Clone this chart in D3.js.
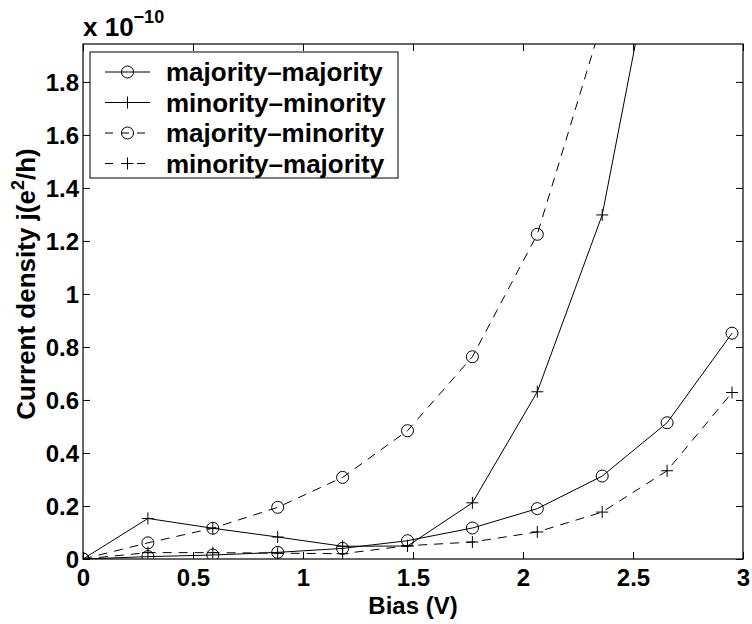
<!DOCTYPE html>
<html>
<head>
<meta charset="utf-8">
<script src="https://cdn.jsdelivr.net/npm/d3@7"></script>
<style>
  body { margin: 0; background: #fff; }
  svg text { font-family: "Liberation Sans", Arial, Helvetica, sans-serif; font-weight: bold; fill: #000; }
</style>
</head>
<body>
<svg id="chart" width="752" height="624"></svg>
<script>
// values in units of 1e-10 e^2/h
var bias = [0, 0.295, 0.59, 0.885, 1.18, 1.475, 1.77, 2.065, 2.36, 2.655, 2.95];
var majMaj = [0, 0.009, 0.015, 0.025, 0.04, 0.069, 0.117, 0.19, 0.313, 0.514, 0.852];
var minMin = [0, 0.153, 0.116, 0.083, 0.048, 0.049, 0.212, 0.631, 1.298, 2.56, 4.8];
var majMin = [0, 0.061, 0.116, 0.195, 0.308, 0.484, 0.763, 1.225, 2.03, 3.3, 5.2];
var minMaj = [0, 0.024, 0.024, 0.022, 0.02, 0.05, 0.064, 0.102, 0.177, 0.333, 0.628];
var seriesNames = ['majority-majority', 'minority-minority', 'majority-minority', 'minority-majority'];
var xTicks = [0, 0.5, 1, 1.5, 2, 2.5, 3];
var yTicks = [0, 0.2, 0.4, 0.6, 0.8, 1, 1.2, 1.4, 1.6, 1.8];

var margin = {top: 44, right: 9, bottom: 65, left: 83};
var W = 752, H = 624;
var width = W - margin.left - margin.right;
var height = H - margin.top - margin.bottom;

var series = [
    {name: seriesNames[0], values: majMaj, dash: null, marker: 'circle'},
    {name: seriesNames[1], values: minMin, dash: null, marker: 'plus'},
    {name: seriesNames[2], values: majMin, dash: '9,7', marker: 'circle'},
    {name: seriesNames[3], values: minMaj, dash: '9,7', marker: 'plus'}
];

var svg = d3.select('#chart');
var g = svg.append('g').attr('transform', 'translate(' + margin.left + ',' + margin.top + ')');

var x = d3.scaleLinear().domain([0, 3]).range([0, width]);
var y = d3.scaleLinear().domain([0, 1.943]).range([height, 0]);

g.append('clipPath').attr('id', 'plotClip')
    .append('rect').attr('width', width).attr('height', height);

// axes, ticks pointing inward like matlab
var fmt = function (d) { return String(d); };
var xb = g.append('g').attr('transform', 'translate(0,' + height + ')')
    .call(d3.axisBottom(x).tickValues(xTicks).tickFormat(fmt).tickSizeInner(-7).tickSizeOuter(0).tickPadding(10));
var xt = g.append('g')
    .call(d3.axisTop(x).tickValues(xTicks).tickFormat('').tickSizeInner(-7).tickSizeOuter(0));
var yl = g.append('g')
    .call(d3.axisLeft(y).tickValues(yTicks).tickFormat(fmt).tickSizeInner(-7).tickSizeOuter(0).tickPadding(4));
var yr = g.append('g').attr('transform', 'translate(' + width + ',0)')
    .call(d3.axisRight(y).tickValues(yTicks).tickFormat('').tickSizeInner(-7).tickSizeOuter(0));
[xb, xt, yl, yr].forEach(function (a) {
    a.select('.domain').remove();
    a.selectAll('line').attr('stroke', '#000').attr('stroke-width', 1);
    a.selectAll('text').attr('font-size', 24).attr('font-family', null);
});
xb.selectAll('text').attr('dy', '0.71em');
yl.selectAll('text').attr('dy', '0.36em');

g.append('rect').attr('width', width).attr('height', height)
    .attr('fill', 'none').attr('stroke', '#000').attr('stroke-width', 1.2);

// lines
var line = d3.line()
    .x(function (d, i) { return x(bias[i]); })
    .y(function (d) { return y(d); });
var plot = g.append('g').attr('clip-path', 'url(#plotClip)');

function drawMarker(sel, type, cx, cy) {
    if (type === 'circle') {
        sel.append('circle').attr('cx', cx).attr('cy', cy).attr('r', 6)
            .attr('fill', 'none').attr('stroke', '#000').attr('stroke-width', 1);
    } else {
        sel.append('path')
            .attr('d', 'M' + (cx - 6) + ',' + cy + 'H' + (cx + 6) + 'M' + cx + ',' + (cy - 6) + 'V' + (cy + 6))
            .attr('stroke', '#000').attr('stroke-width', 1).attr('fill', 'none');
    }
}

series.forEach(function (s) {
    plot.append('path')
        .datum(s.values)
        .attr('d', line)
        .attr('fill', 'none')
        .attr('stroke', '#000')
        .attr('stroke-width', 1)
        .attr('stroke-dasharray', s.dash);
    s.values.forEach(function (v, i) {
        drawMarker(plot, s.marker, x(bias[i]), y(v));
    });
});

// multiplier label
var mult = g.append('text').attr('x', 0).attr('y', -8).attr('font-size', 26);
mult.append('tspan').text('x 10');
mult.append('tspan').attr('font-size', 18).attr('dy', -13).text('\u221210');

// axis titles
g.append('text')
    .attr('x', width / 2).attr('y', height + 55)
    .attr('text-anchor', 'middle').attr('font-size', 24)
    .text('Bias (V)');
var yt = svg.append('text')
    .attr('transform', 'translate(35,284) rotate(-90)')
    .attr('text-anchor', 'middle').attr('font-size', 26);
yt.append('tspan').text('Current density j(e');
yt.append('tspan').attr('font-size', 18).attr('dy', -11).text('2');
yt.append('tspan').attr('dy', 11).text('/h)');

// legend
var lg = svg.append('g').attr('transform', 'translate(90,52)');
lg.append('rect').attr('width', 308).attr('height', 126)
    .attr('fill', '#fff').attr('stroke', '#000').attr('stroke-width', 1);
series.forEach(function (s, i) {
    var cy = 20 + i * 30.5;
    lg.append('line').attr('x1', 15).attr('x2', 60).attr('y1', cy).attr('y2', cy)
        .attr('stroke', '#000').attr('stroke-width', 1)
        .attr('stroke-dasharray', s.dash ? '8,8' : null);
    drawMarker(lg, s.marker, 37.5, cy);
    lg.append('text').attr('x', 76).attr('y', cy).attr('dy', '0.36em')
        .attr('font-size', 26).text(s.name.replace('-', '\u2013'));
});
</script>
</body>
</html>
